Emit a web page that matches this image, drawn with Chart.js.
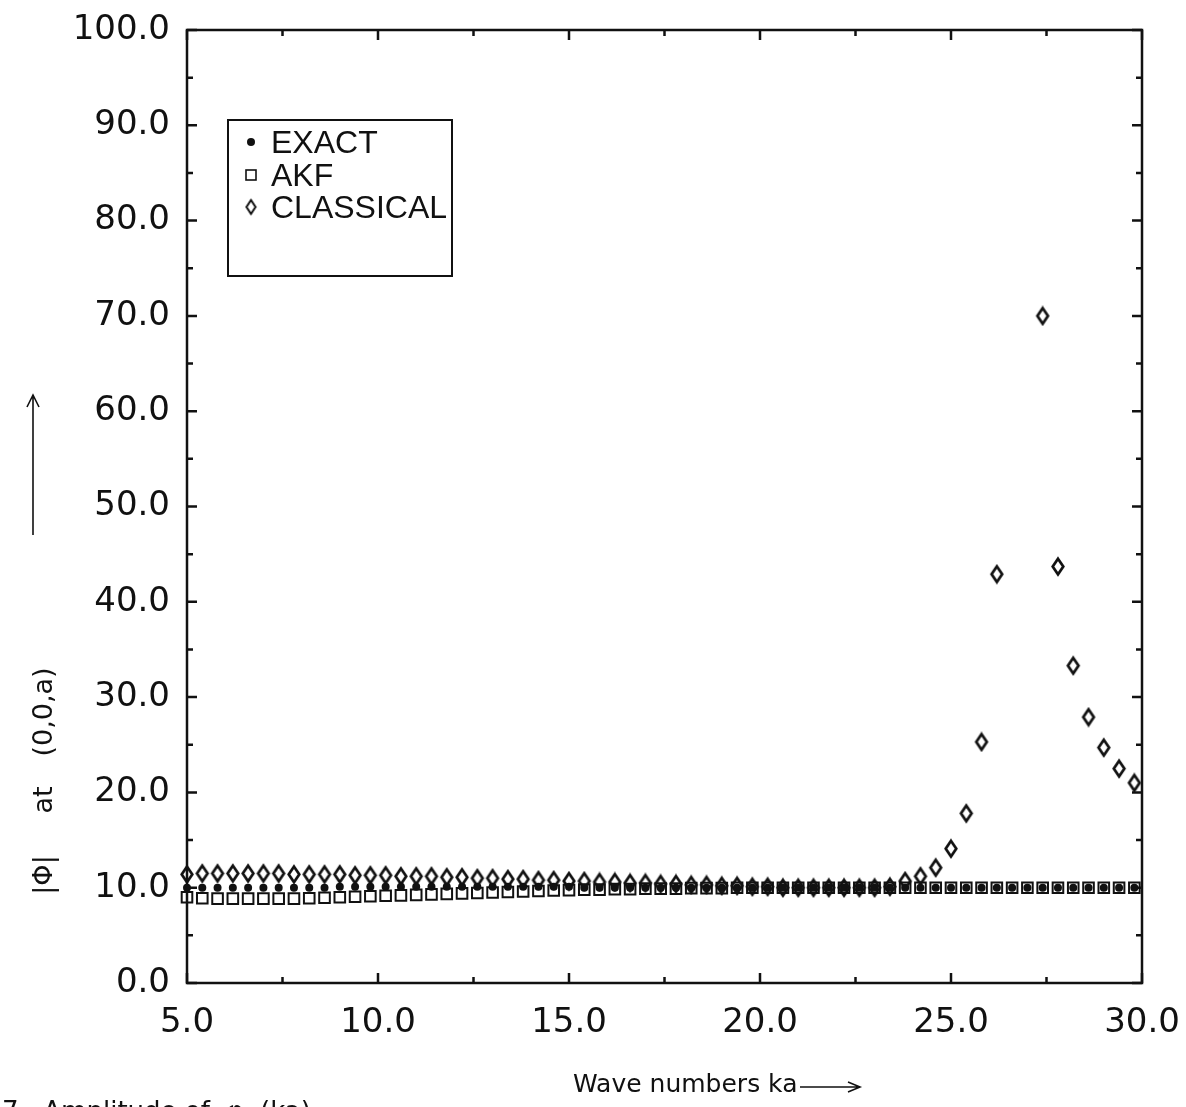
<!DOCTYPE html>
<html>
<head>
<meta charset="utf-8">
<title>Wave numbers ka</title>
<script src="https://cdn.jsdelivr.net/npm/chart.js@4.4.1/dist/chart.umd.min.js"></script>
<style>
    html, body { margin: 0; padding: 0; background: #fff; }
    canvas { display: block; }
</style>
</head>
<body>
<canvas id="waveChart" width="1186" height="1107"></canvas>
<script>
// Wave numbers ka (x values shared by all series)
const waveNumbers = [
    5.0, 5.4, 5.8, 6.2, 6.6, 7.0, 7.4, 7.8, 8.2, 8.6,
    9.0, 9.4, 9.8, 10.2, 10.6, 11.0, 11.4, 11.8, 12.2, 12.6,
    13.0, 13.4, 13.8, 14.2, 14.6, 15.0, 15.4, 15.8, 16.2, 16.6,
    17.0, 17.4, 17.8, 18.2, 18.6, 19.0, 19.4, 19.8, 20.2, 20.6,
    21.0, 21.4, 21.8, 22.2, 22.6, 23.0, 23.4, 23.8, 24.2, 24.6,
    25.0, 25.4, 25.8, 26.2, 26.6, 27.0, 27.4, 27.8, 28.2, 28.6,
    29.0, 29.4, 29.8
];

// |phi| at (0,0,a)
const exactValues = [
    10.0, 10.0, 10.0, 10.0, 10.0, 10.0, 10.0, 10.0, 10.0, 10.0,
    10.1, 10.1, 10.1, 10.1, 10.1, 10.1, 10.1, 10.1, 10.1, 10.1,
    10.1, 10.1, 10.1, 10.1, 10.1, 10.1, 10.0, 10.0, 10.0, 10.0,
    10.0, 10.0, 10.0, 10.0, 10.0, 10.0, 10.0, 10.0, 10.0, 10.0,
    10.0, 10.0, 10.0, 10.0, 10.0, 10.0, 10.0, 10.0, 10.0, 10.0,
    10.0, 10.0, 10.0, 10.0, 10.0, 10.0, 10.0, 10.0, 10.0, 10.0,
    10.0, 10.0, 10.0
];

const akfValues = [
    9.0, 8.9, 8.85, 8.85, 8.85, 8.85, 8.85, 8.85, 8.9, 8.95,
    9.0, 9.05, 9.1, 9.15, 9.2, 9.25, 9.3, 9.35, 9.4, 9.45,
    9.5, 9.55, 9.6, 9.65, 9.7, 9.75, 9.8, 9.8, 9.85, 9.85,
    9.9, 9.9, 9.9, 9.95, 9.95, 9.95, 10.0, 10.0, 10.0, 10.0,
    10.0, 10.0, 10.0, 10.0, 10.0, 10.0, 10.0, 10.0, 10.0, 10.0,
    10.0, 10.0, 10.0, 10.0, 10.0, 10.0, 10.0, 10.0, 10.0, 10.0,
    10.0, 10.0, 10.0
];

// two points near 26.6 - 27.0 go past the top of the scale
const classicalValues = [
    11.4, 11.5, 11.5, 11.5, 11.5, 11.5, 11.5, 11.4, 11.4, 11.4,
    11.4, 11.3, 11.3, 11.3, 11.2, 11.2, 11.2, 11.1, 11.1, 11.0,
    11.0, 10.9, 10.9, 10.8, 10.8, 10.7, 10.7, 10.6, 10.6, 10.5,
    10.5, 10.4, 10.4, 10.3, 10.3, 10.2, 10.2, 10.1, 10.1, 10.0,
    10.0, 10.0, 10.0, 10.0, 10.0, 10.0, 10.1, 10.7, 11.2, 12.1,
    14.1, 17.8, 25.3, 42.9, null, null, 70.0, 43.7, 33.3, 27.9,
    24.7, 22.5, 21.0
];

const seriesLabels = ['EXACT', 'AKF', 'CLASSICAL'];
const xTickValues = [5.0, 10.0, 15.0, 20.0, 25.0, 30.0];
const yTickValues = [0.0, 10.0, 20.0, 30.0, 40.0, 50.0, 60.0, 70.0, 80.0, 90.0, 100.0];

const INK = '#111';
const TICK_FONT = 'DejaVu Sans';
const TEXT_FONT = 'Liberation Sans';

// (x, y) pairs for one series
function toPoints(values) {
    return waveNumbers.map((ka, i) => ({ x: ka, y: values[i] }));
}

// Hollow diamond, a bit taller than wide
function makeDiamond(w, h, lw) {
    const c = document.createElement('canvas');
    c.width = w;
    c.height = h;
    const g = c.getContext('2d');
    g.strokeStyle = INK;
    g.lineWidth = lw;
    g.lineJoin = 'miter';
    g.beginPath();
    g.moveTo(w / 2, lw);
    g.lineTo(w - lw, h / 2);
    g.lineTo(w / 2, h - lw);
    g.lineTo(lw, h / 2);
    g.closePath();
    g.stroke();
    return c;
}

const diamondMark = makeDiamond(16, 21, 2.7);
const diamondLegend = makeDiamond(13, 18, 2);

// Frame with inward ticks on all four sides
const frameTicks = {
    id: 'frameTicks',
    beforeDatasetsDraw(chart) {
        const { ctx, chartArea: a, scales: { x, y } } = chart;
        ctx.save();
        ctx.strokeStyle = INK;
        ctx.lineWidth = 2.5;
        ctx.strokeRect(a.left, a.top, a.right - a.left, a.bottom - a.top);

        ctx.beginPath();
        for (let v = x.min; v <= x.max + 1e-9; v += 2.5) {
            const px = x.getPixelForValue(v);
            const len = xTickValues.includes(v) ? 10 : 6;
            ctx.moveTo(px, a.bottom);
            ctx.lineTo(px, a.bottom - len);
            ctx.moveTo(px, a.top);
            ctx.lineTo(px, a.top + len);
        }
        for (let v = y.min; v <= y.max + 1e-9; v += 5) {
            const py = y.getPixelForValue(v);
            const len = yTickValues.includes(v) ? 10 : 6;
            ctx.moveTo(a.left, py);
            ctx.lineTo(a.left + len, py);
            ctx.moveTo(a.right, py);
            ctx.lineTo(a.right - len, py);
        }
        ctx.stroke();
        ctx.restore();
    }
};

// Axis titles, legend box and the figure caption
const annotations = {
    id: 'annotations',
    afterDraw(chart) {
        const { ctx, chartArea: a } = chart;
        ctx.save();
        ctx.fillStyle = INK;
        ctx.strokeStyle = INK;

        // y title, reading upwards
        ctx.save();
        ctx.translate(52, 0);
        ctx.rotate(-Math.PI / 2);
        ctx.font = `27px ${TICK_FONT}`;
        ctx.textAlign = 'center';
        ctx.textBaseline = 'alphabetic';
        ctx.fillText('|\u03A6|', -875, 0);
        ctx.fillText('at', -800, 0);
        ctx.fillText('(0,0,a)', -712, 0);
        ctx.restore();

        // arrow beside the y title
        ctx.lineWidth = 1.6;
        ctx.beginPath();
        ctx.moveTo(33, 535);
        ctx.lineTo(33, 395);
        ctx.moveTo(27, 407);
        ctx.lineTo(33, 395);
        ctx.lineTo(39, 407);
        ctx.stroke();

        // x title with arrow
        ctx.font = `25px ${TICK_FONT}`;
        ctx.textAlign = 'left';
        ctx.textBaseline = 'alphabetic';
        ctx.fillText('Wave numbers ka', 573, 1092);
        ctx.beginPath();
        ctx.moveTo(800, 1087);
        ctx.lineTo(860, 1087);
        ctx.moveTo(848, 1082);
        ctx.lineTo(860, 1087);
        ctx.lineTo(848, 1092);
        ctx.stroke();

        // caption, cut by the bottom edge
        ctx.font = `26px ${TICK_FONT}`;
        ctx.fillText('7.  Amplitude of  \u03C6  (ka)', 2, 1120);

        // legend box
        const bx = a.left + 41, by = a.top + 90, bw = 224, bh = 156;
        ctx.lineWidth = 2;
        ctx.strokeRect(bx, by, bw, bh);
        ctx.font = `32px ${TEXT_FONT}`;
        const rows = [33, 66, 98];
        chart.data.datasets.forEach((ds, i) => {
            const ty = by + rows[i];
            const sx = bx + 23;
            const sy = ty - 11;
            if (i === 0) {
                ctx.beginPath();
                ctx.arc(sx, sy, 4, 0, Math.PI * 2);
                ctx.fill();
            } else if (i === 1) {
                ctx.lineWidth = 1.6;
                ctx.strokeRect(sx - 5, sy - 5, 10, 10);
            } else {
                ctx.drawImage(diamondLegend, sx - 6.5, sy - 9);
            }
            ctx.fillText(ds.label, bx + 43, ty);
        });
        ctx.restore();
    }
};

function initializeWaveChart() {
    const ctx = document.getElementById('waveChart').getContext('2d');
    new Chart(ctx, {
        type: 'scatter',
        data: {
            datasets: [
                {
                    label: seriesLabels[0],
                    data: toPoints(exactValues),
                    pointStyle: 'circle',
                    pointRadius: 4,
                    pointBackgroundColor: INK,
                    pointBorderColor: INK,
                    pointBorderWidth: 0,
                    order: 0,
                    clip: false
                },
                {
                    label: seriesLabels[1],
                    data: toPoints(akfValues),
                    pointStyle: 'rect',
                    pointRadius: 7.5,
                    pointBackgroundColor: 'rgba(0,0,0,0)',
                    pointBorderColor: INK,
                    pointBorderWidth: 2,
                    order: 2,
                    clip: false
                },
                {
                    label: seriesLabels[2],
                    data: toPoints(classicalValues),
                    pointStyle: diamondMark,
                    pointRadius: 9,
                    order: 1,
                    clip: false
                }
            ]
        },
        options: {
            responsive: false,
            animation: false,
            events: [],
            layout: {
                padding: { left: 0, top: 30, right: 44, bottom: 0 }
            },
            plugins: {
                legend: { display: false },
                tooltip: { enabled: false }
            },
            scales: {
                x: {
                    type: 'linear',
                    min: 5,
                    max: 30,
                    afterFit(scale) {
                        scale.height = 124;
                        scale.paddingLeft = 0;
                        scale.paddingRight = 0;
                    },
                    afterBuildTicks(scale) {
                        scale.ticks = xTickValues.map(v => ({ value: v }));
                    },
                    grid: { display: false, drawTicks: false },
                    border: { display: false },
                    ticks: {
                        padding: 20,
                        color: INK,
                        font: { family: TICK_FONT, size: 34 },
                        callback: v => Number(v).toFixed(1)
                    }
                },
                y: {
                    type: 'linear',
                    min: 0,
                    max: 100,
                    afterFit(scale) {
                        scale.width = 187;
                        scale.paddingTop = 0;
                        scale.paddingBottom = 0;
                    },
                    afterBuildTicks(scale) {
                        scale.ticks = yTickValues.map(v => ({ value: v }));
                    },
                    grid: { display: false, drawTicks: false },
                    border: { display: false },
                    ticks: {
                        padding: 17,
                        color: INK,
                        font: { family: TICK_FONT, size: 34 },
                        callback: v => Number(v).toFixed(1)
                    }
                }
            }
        },
        plugins: [frameTicks, annotations]
    });
}

document.addEventListener('DOMContentLoaded', () => {
    initializeWaveChart();
});
</script>
</body>
</html>
